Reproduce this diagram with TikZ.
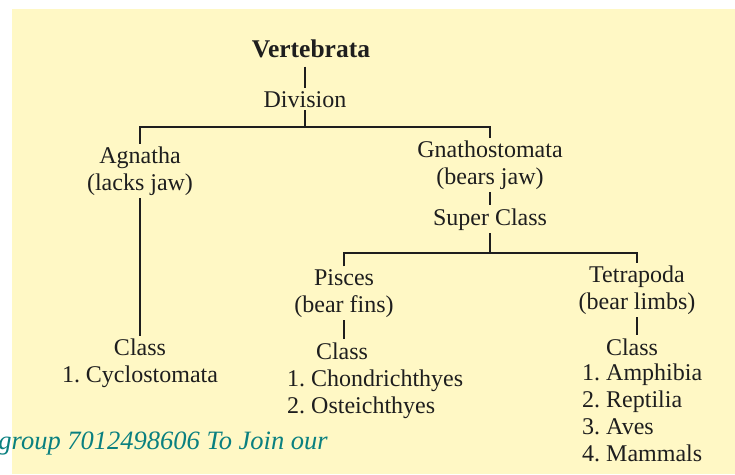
\documentclass[tikz,border=0pt]{standalone}
\usepackage{fontspec}
\setmainfont{Liberation Serif}
\usepackage[usenames]{xcolor}
\usepackage{tikz}
\definecolor{paper}{HTML}{FFF8C5}
\definecolor{ink}{HTML}{1E1E1E}
\definecolor{wmark}{HTML}{0A8080}
\frenchspacing
\tikzset{
  taxon/.style={font=\fontsize{24}{26.5}\selectfont,text=ink,align=center,inner sep=3pt,anchor=base},
  taxlist/.style={font=\fontsize{24}{26.7}\selectfont,text=ink,align=left,inner sep=0pt,anchor=base west},
  branch/.style={draw=ink,line width=1.3pt}
}

\begin{document}
\begin{tikzpicture}[line cap=butt,line join=miter,x=1pt,y=-1pt]
\useasboundingbox (0,0) rectangle (735,474);
\fill[paper] (12,9) rectangle (735,474);
% anchor=base sits on the last line of each node
\node[taxon,inner ysep=9pt,font=\fontsize{25.5}{27}\selectfont\bfseries] (vert) at (311,57) {Vertebrata};
\node[taxon] (div) at (305,107) {Division};
\coordinate (top) at (305,127);
\node[taxon] (agn) at (140,190) {Agnatha\\(lacks jaw)};
\node[taxon] (gna) at (490,184) {Gnathostomata\\(bears jaw)};
\node[taxon] (agncl) at (140,382) {Class\\1. Cyclostomata};
\node[taxon] (sup) at (490,225) {Super Class};
\coordinate (mid) at (490,253);
\node[taxon] (pis) at (344,312) {Pisces\\(bear fins)};
\node[taxon] (tet) at (637,309) {Tetrapoda\\(bear limbs)};
\node[taxon] (piscl) at (342,359) {Class};
\node[taxon] (tetcl) at (632,355) {Class};
\node[taxlist] (pislst) at (287,413) {1. Chondrichthyes\\2. Osteichthyes};
\node[taxlist] (tetlst) at (582,461) {1. Amphibia\\2. Reptilia\\3. Aves\\4. Mammals};
\node[font=\fontsize{26.5}{27}\selectfont\itshape,text=wmark,anchor=base east,inner sep=0pt] (wm) at (328,449) {group 7012498606 To Join our};
\draw[branch] (vert.south -| top) -- (div.north -| top);
\draw[branch] (div.south -| top) -- (top);
\draw[branch] (agn.north) |- (top) -| (gna.north);
\draw[branch] (agn) -- (agncl);
\draw[branch] (gna) -- (sup);
\draw[branch] (sup) -- (mid);
\draw[branch] (pis.north) |- (mid) -| (tet.north);
\draw[branch] (pis.south) -- (pis.south |- piscl.north);
\draw[branch] (tet.south) -- (tet.south |- tetcl.north);
\end{tikzpicture}
\end{document}
